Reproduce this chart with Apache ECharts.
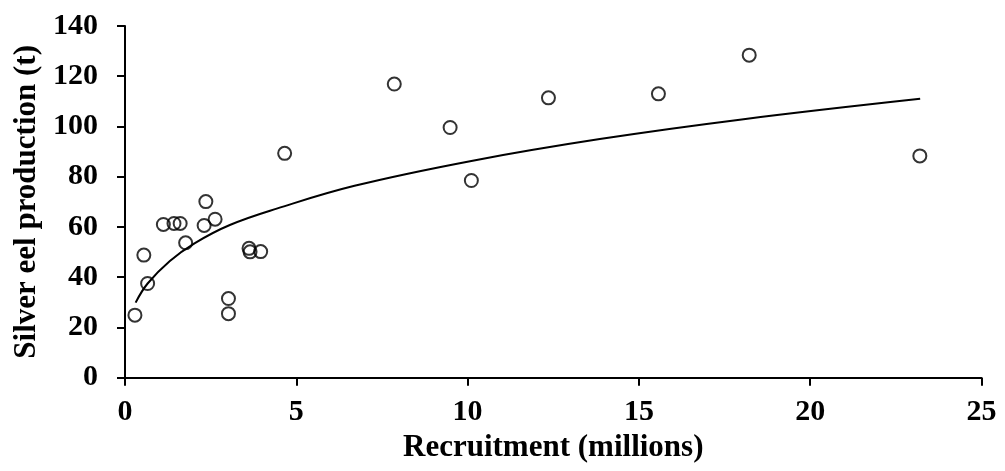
<!DOCTYPE html>
<html>
<head>
<meta charset="utf-8">
<script src="https://cdn.jsdelivr.net/npm/echarts@6/dist/echarts.min.js"></script>
<style>
html,body{margin:0;padding:0;background:#fff;}
#chart{width:1005px;height:471px;}
</style>
</head>
<body>
<div id="chart"></div>
<script>
// Observed data: recruitment (millions) vs silver eel production (t)
var recruitment = [0.29, 0.55, 0.66, 1.12, 1.43, 1.61, 1.77, 2.31, 2.36, 2.63, 3.02, 3.02, 3.62, 3.65, 3.96, 4.66, 7.86, 9.49, 10.11, 12.36, 15.57, 18.22, 23.20];
var production  = [24.9, 48.8, 37.5, 61.0, 61.4, 61.4, 53.7, 60.6, 70.1, 63.1, 31.5, 25.5, 51.5, 50.1, 50.2, 89.3, 116.9, 99.6, 78.5, 111.4, 113.0, 128.4, 88.3];

// Fitted trend curve
var trendX = [0.31, 0.66, 1.31, 2.04, 3.06, 4.45, 6.7, 10.11, 13.86, 18.0, 23.21];
var trendY = [29.9, 37.5, 46.5, 53.6, 60.8, 67.4, 76.4, 86.3, 95.0, 102.8, 111.0];

var xTicks = [0, 5, 10, 15, 20, 25];
var yTicks = [0, 20, 40, 60, 80, 100, 120, 140];

var xTitle = 'Recruitment (millions)';
var yTitle = 'Silver eel production (t)';

var scatterData = recruitment.map(function (x, i) { return [x, production[i]]; });
var trendData = trendX.map(function (x, i) { return [x, trendY[i]]; });

var font = 'Liberation Serif';
var chart = echarts.init(document.getElementById('chart'), null, {renderer: 'canvas'});
chart.setOption({
  animation: false,
  backgroundColor: '#ffffff',
  grid: {left: 125, right: 23.5, top: 26, bottom: 93.3, containLabel: false},
  xAxis: {
    type: 'value',
    min: xTicks[0], max: xTicks[xTicks.length - 1], interval: xTicks[1] - xTicks[0],
    name: xTitle, nameLocation: 'middle', nameGap: 51,
    nameTextStyle: {fontFamily: font, fontWeight: 'bold', fontSize: 31, color: '#000'},
    axisLine: {show: true, onZero: false, lineStyle: {color: '#000', width: 2}},
    axisTick: {show: true, inside: false, length: 8, lineStyle: {color: '#000', width: 2}},
    axisLabel: {fontFamily: font, fontWeight: 'bold', fontSize: 30, color: '#000', margin: 20},
    splitLine: {show: false}
  },
  yAxis: {
    type: 'value',
    min: yTicks[0], max: yTicks[yTicks.length - 1], interval: yTicks[1] - yTicks[0],
    name: yTitle, nameLocation: 'middle', nameGap: 80,
    nameTextStyle: {fontFamily: font, fontWeight: 'bold', fontSize: 31, color: '#000'},
    axisLine: {show: true, onZero: false, lineStyle: {color: '#000', width: 2}},
    axisTick: {show: true, inside: false, length: 8, lineStyle: {color: '#000', width: 2}},
    axisLabel: {fontFamily: font, fontWeight: 'bold', fontSize: 30, color: '#000', margin: 27},
    splitLine: {show: false}
  },
  series: [
    {
      type: 'line',
      data: trendData,
      smooth: 0.4,
      showSymbol: false,
      lineStyle: {color: '#000', width: 2},
      z: 2
    },
    {
      type: 'scatter',
      data: scatterData,
      symbol: 'circle',
      symbolSize: 13,
      itemStyle: {color: 'rgba(0,0,0,0)', borderColor: '#000', borderWidth: 2},
      z: 3
    }
  ]
});
</script>
</body>
</html>
